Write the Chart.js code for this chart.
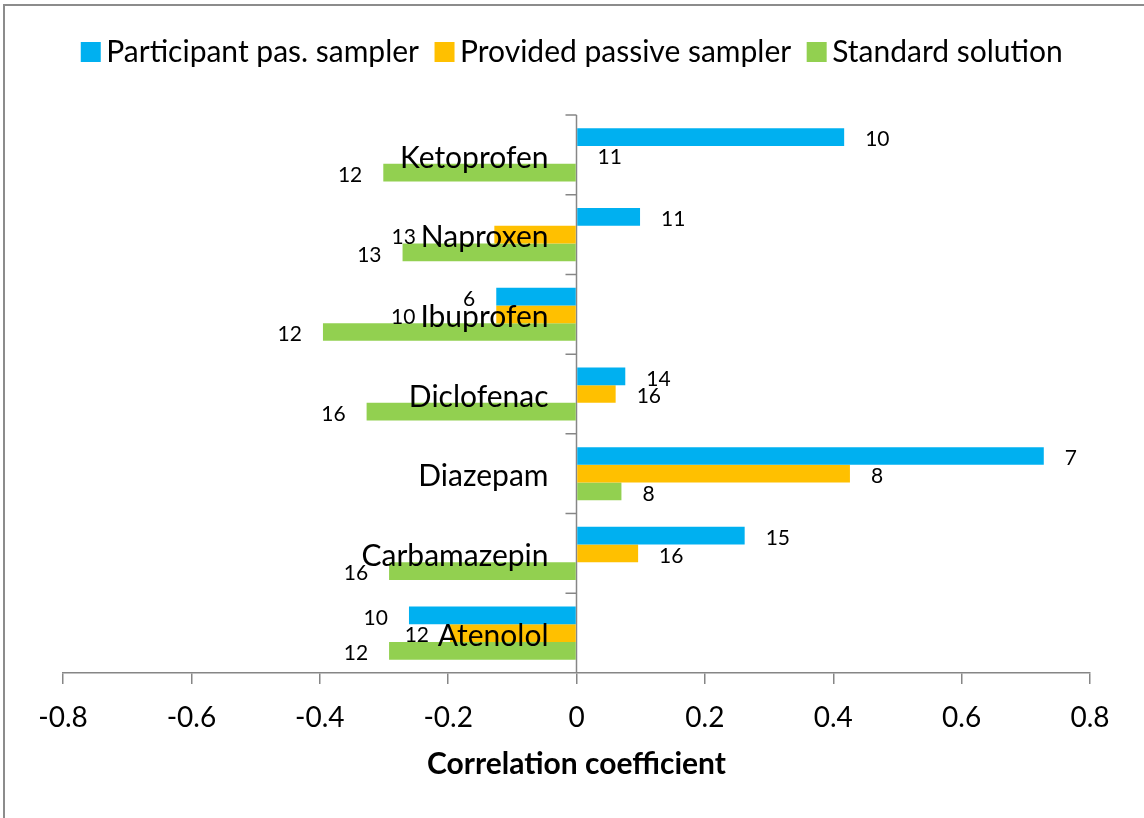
<!DOCTYPE html>
<html>
<head>
<meta charset="utf-8">
<script src="https://cdn.jsdelivr.net/npm/chart.js@4/dist/chart.umd.min.js"></script>
<style>
  html, body { margin: 0; padding: 0; background: #fff; overflow: hidden; }
  #wrap { position: relative; width: 1144px; height: 818px; }
  #frame { position: absolute; left: 3px; top: 4px; width: 1300px; height: 1000px; border: 2px solid #8c8c8c; box-sizing: border-box; pointer-events: none; }
</style>
</head>
<body>
<div id="wrap">
  <canvas id="chart"></canvas>
  <div id="frame"></div>
</div>
<script>
const categories = ["Ketoprofen", "Naproxen", "Ibuprofen", "Diclofenac", "Diazepam", "Carbamazepin", "Atenolol"];
const seriesNames = ["Participant pas. sampler", "Provided passive sampler", "Standard solution"];

// correlation coefficients
const participant = [0.417, 0.099, -0.125, 0.076, 0.728, 0.262, -0.261];
const provided = [0, -0.128, -0.125, 0.061, 0.426, 0.096, -0.197];
const standard = [-0.301, -0.271, -0.395, -0.327, 0.070, -0.292, -0.292];

// number of results behind each bar (data labels)
const participantN = [10, 11, 6, 14, 7, 15, 10];
const providedN = [11, 13, 10, 16, 8, 16, 12];
const standardN = [12, 13, 12, 16, 8, 16, 12];

const xMin = -0.8, xMax = 0.8, xStep = 0.2;

const FONT = "Lato, 'Open Sans', sans-serif";
const axisGray = "#868686";

// extra room under the legend
const legendSpacer = {
  id: "legendSpacer",
  beforeInit(chart) {
    const fit = chart.legend.fit;
    chart.legend.fit = function () {
      fit.bind(chart.legend)();
      this.height += 38;
    };
  }
};

// vertical axis sits on zero, with the category names next to it
const zeroAxis = {
  id: "zeroAxis",
  beforeDatasetsDraw(chart) {
    const { ctx, chartArea, scales: { x, y } } = chart;
    const x0 = x.getPixelForValue(0);
    const half = (y.getPixelForValue(1) - y.getPixelForValue(0)) / 2;
    ctx.save();
    ctx.strokeStyle = axisGray;
    ctx.lineWidth = 1.5;
    ctx.beginPath();
    ctx.moveTo(x0, chartArea.top);
    ctx.lineTo(x0, chartArea.bottom);
    categories.forEach((c, i) => {
      const yy = y.getPixelForValue(i) - half;
      ctx.moveTo(x0 - 11, yy);
      ctx.lineTo(x0, yy);
    });
    ctx.stroke();
    ctx.restore();
  },
  afterDatasetsDraw(chart) {
    const { ctx, scales: { x, y } } = chart;
    const x0 = x.getPixelForValue(0);
    const catSize = 30, labSize = 21;
    const catRight = x0 - 28;
    ctx.save();
    ctx.fillStyle = "#000";
    ctx.textBaseline = "middle";

    ctx.font = catSize + "px " + FONT;
    const catBoxes = categories.map((c, i) => {
      const w = ctx.measureText(c).width;
      return { left: catRight - w, right: catRight, y: y.getPixelForValue(i) };
    });

    // data labels, outside the bar end; pushed clear of the category name if they collide
    ctx.font = labSize + "px " + FONT;
    chart.data.datasets.forEach((ds, d) => {
      const meta = chart.getDatasetMeta(d);
      meta.data.forEach((bar, i) => {
        const v = ds.data[i];
        const txt = String(ds.counts[i]);
        const w = ctx.measureText(txt).width;
        if (v < 0) {
          let tx = bar.x - 21;
          const cb = catBoxes[i];
          const overlapY = Math.abs(bar.y - cb.y) < 0.3 * (catSize + labSize);
          if (overlapY && tx - w < cb.right && tx > cb.left) tx = cb.left - 5;
          ctx.textAlign = "right";
          ctx.fillText(txt, tx, bar.y + 2.5);
        } else {
          ctx.textAlign = "left";
          ctx.fillText(txt, bar.x + 21, bar.y + 2.5);
        }
      });
    });

    ctx.font = catSize + "px " + FONT;
    ctx.textAlign = "right";
    catBoxes.forEach((cb, i) => ctx.fillText(categories[i], cb.right, cb.y + 3));
    ctx.restore();
  }
};

new Chart(document.getElementById("chart"), {
  type: "bar",
  data: {
    labels: categories,
    datasets: [
      { label: seriesNames[0], data: participant, counts: participantN, backgroundColor: "#00B0F0" },
      { label: seriesNames[1], data: provided, counts: providedN, backgroundColor: "#FFC000" },
      { label: seriesNames[2], data: standard, counts: standardN, backgroundColor: "#92D050" }
    ]
  },
  options: {
    indexAxis: "y",
    responsive: true,
    maintainAspectRatio: false,
    animation: false,
    categoryPercentage: 0.667,
    barPercentage: 1.0,
    layout: { padding: { top: 12, left: 63, right: 54, bottom: 32 } },
    plugins: {
      tooltip: { enabled: false },
      legend: {
        position: "top",
        labels: {
          usePointStyle: true,
          pointStyle: "rect",
          boxWidth: 1,
          boxHeight: 20,
          padding: 25,
          color: "#000",
          font: { family: FONT, size: 30 }
        }
      }
    },
    scales: {
      x: {
        min: xMin,
        max: xMax,
        ticks: {
          stepSize: xStep,
          color: "#000",
          padding: 17,
          maxRotation: 0,
          font: { family: FONT, size: 28 },
          callback: v => String(Math.round(v * 10) / 10)
        },
        grid: { drawOnChartArea: false, tickLength: 11, color: axisGray, lineWidth: 1.5 },
        border: { color: axisGray, width: 1.5 },
        title: {
          display: true,
          text: "Correlation coefficient",
          color: "#000",
          font: { family: FONT, size: 30, weight: "bold" },
          padding: { top: -5.6, bottom: 4 }
        }
      },
      y: { display: false }
    }
  },
  plugins: [legendSpacer, zeroAxis]
});
</script>
</body>
</html>
